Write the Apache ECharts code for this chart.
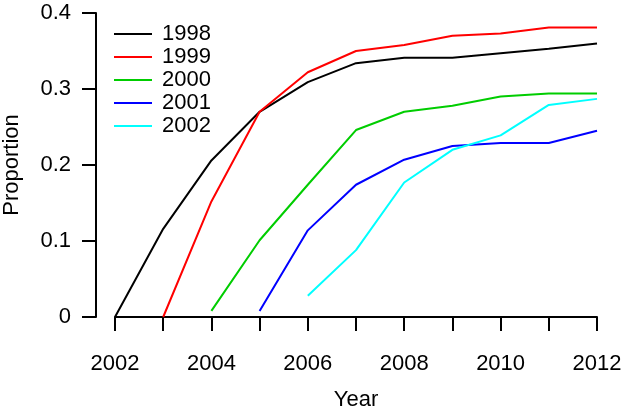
<!DOCTYPE html>
<html><head><meta charset="utf-8">
<script src="https://cdn.jsdelivr.net/npm/echarts@6/dist/echarts.min.js"></script>
<style>html,body{margin:0;padding:0;background:#fff}#c{width:622px;height:414px}</style>
</head><body><div id="c"></div>
<script>
const years = [2002,2003,2004,2005,2006,2007,2008,2009,2010,2011,2012];
const seriesNames = ['1998','1999','2000','2001','2002'];
const colors = ['#000000','#ff0000','#00cd00','#0000ff','#00ffff'];
const s1998 = [0, 0.116, 0.206, 0.270, 0.309, 0.334, 0.341, 0.341, 0.347, 0.353, 0.360];
const s1999 = [null, 0, 0.152, 0.270, 0.322, 0.350, 0.358, 0.370, 0.373, 0.381, 0.381];
const s2000 = [null, null, 0.008, 0.101, 0.174, 0.246, 0.270, 0.278, 0.290, 0.294, 0.294];
const s2001 = [null, null, null, 0.008, 0.114, 0.174, 0.207, 0.225, 0.229, 0.229, 0.245];
const s2002 = [null, null, null, null, 0.028, 0.088, 0.177, 0.220, 0.239, 0.279, 0.287];
const allSeries = [s1998, s1999, s2000, s2001, s2002];
const yTicks = [0, 0.1, 0.2, 0.3, 0.4];

const font = 'Liberation Sans, Arial, Helvetica, sans-serif';
const fs = 22;
const chart = echarts.init(document.getElementById('c'));
chart.setOption({
  animation: false,
  backgroundColor: '#fff',
  grid: {left: 115, right: 25, top: 13, bottom: 97, containLabel: false, outerBoundsMode: 'none'},
  legend: {
    orient: 'vertical', left: 109, top: 18,
    itemWidth: 38, itemHeight: 2, itemGap: 1,
    icon: 'rect',
    textStyle: {fontFamily: font, fontSize: fs, lineHeight: 22, color: '#000', padding: [0,0,0,5]},
    data: seriesNames
  },
  xAxis: {
    type: 'value', min: 2002, max: 2012, interval: 1,
    offset: 15,
    name: 'Year', nameLocation: 'middle', nameGap: 57,
    nameTextStyle: {fontFamily: font, fontSize: fs, color: '#000'},
    axisLine: {show: true, lineStyle: {color: '#000', width: 2}},
    axisTick: {show: true, length: 14, lineStyle: {color: '#000', width: 2}},
    axisLabel: {fontFamily: font, fontSize: fs, color: '#000', margin: 21,
      formatter: v => (v % 2 === 0 ? String(v) : '')},
    splitLine: {show: false}
  },
  yAxis: {
    type: 'value', min: 0, max: 0.4, interval: 0.1,
    offset: 19,
    name: 'Proportion', nameLocation: 'middle', nameGap: 73,
    nameTextStyle: {fontFamily: font, fontSize: fs, color: '#000'},
    axisLine: {show: true, lineStyle: {color: '#000', width: 2}},
    axisTick: {show: true, length: 14, lineStyle: {color: '#000', width: 2}},
    axisLabel: {fontFamily: font, fontSize: fs, color: '#000', margin: 25,
      formatter: v => { const t = yTicks.find(x => Math.abs(x - v) < 1e-9); return t === 0 ? '0' : String(Math.round(v*10)/10); }},
    splitLine: {show: false}
  },
  series: allSeries.map((arr, i) => ({
    name: seriesNames[i], type: 'line', symbol: 'none', showSymbol: false,
    color: colors[i],
    itemStyle: {color: colors[i]},
    lineStyle: {color: colors[i], width: 2},
    data: years.map((y, j) => [y, arr[j]]).filter(p => p[1] !== null)
  }))
});
</script></body></html>
